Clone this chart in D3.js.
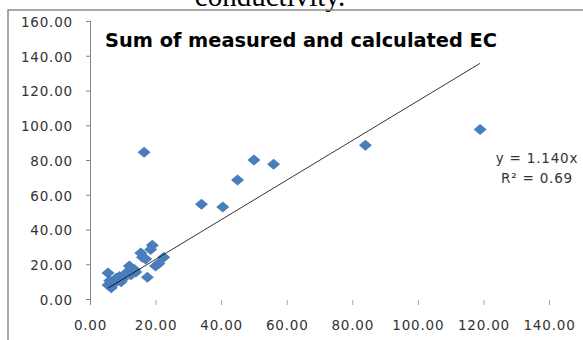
<!DOCTYPE html>
<html>
<head>
<meta charset="utf-8">
<script src="https://cdn.jsdelivr.net/npm/d3@7"></script>
<style>
  body { margin: 0; background: #fff; }
  svg { display: block; }
</style>
</head>
<body>
<script>
// measured vs calculated EC
var measured   = [119, 84, 56, 50, 45, 40.5, 34, 16.5,
                  19, 18.5, 15.5, 17, 16, 22.5, 21, 20, 17.5, 12, 13.5, 11, 9, 8, 10,
                  5.5, 6, 5.5, 6.5, 7.5, 9.5, 14, 12.5];
var calculated = [97.5, 88.5, 77.5, 80, 68.5, 53, 54.5, 84.5,
                  31, 28.5, 26.5, 23, 24, 24, 20.5, 19, 12.5, 19, 17, 15, 13, 12, 11.5,
                  15, 10.5, 8, 6.5, 9, 10, 15.5, 14];
var xTicks = [0, 20, 40, 60, 80, 100, 120, 140];
var yTicks = [0, 20, 40, 60, 80, 100, 120, 140, 160];
var slope = 1.140;
var chartTitle = "Sum of measured and calculated EC";
var eqLines = ["y = 1.140x", "R\u00b2 = 0.69"];

var W = 583, H = 340;

var svg = d3.select('body').append('svg')
  .attr('width', W)
  .attr('height', H);

svg.append('rect').attr('width', W).attr('height', H).style('fill', '#fff');

// caption text of the page, cut by the top edge (as in the source)
svg.append('text')
  .attr('x', 270).attr('y', 6)
  .style('font-family', 'Liberation Serif')
  .style('font-size', '29px')
  .style('text-anchor', 'middle')
  .style('fill', '#000')
  .text('conductivity.');

// chart frame (only top and left edge visible)
svg.append('path')
  .attr('d', 'M8,' + H + ' L8,10 L' + W + ',10')
  .style('fill', 'none')
  .style('stroke', '#8c8c8c')
  .style('stroke-width', 1.5);

var x = d3.scaleLinear().domain([0, 140]).range([90, 549]);
var y = d3.scaleLinear().domain([0, 160]).range([299, 21]);

var labelFont = function(sel) {
  sel.style('font-family', 'DejaVu Sans')
    .style('font-size', '13.5px')
    .style('letter-spacing', '0.8px')
    .style('fill', '#333');
};

// y axis
var yAxis = svg.append('g')
  .attr('transform', 'translate(90,0)')
  .call(d3.axisLeft(y).tickValues(yTicks).tickSize(4).tickPadding(13)
    .tickFormat(function(d) { return d3.format('.2f')(d); }));
yAxis.select('.domain').remove();
yAxis.selectAll('.tick line').style('stroke', '#868686');
yAxis.selectAll('.tick text').call(labelFont).attr('dy', '0.4em');
svg.append('line')
  .attr('x1', 90.5).attr('x2', 90.5)
  .attr('y1', y(160)).attr('y2', 305)
  .style('stroke', '#868686');

// x axis (ticks only, no line)
var xAxis = svg.append('g')
  .attr('transform', 'translate(0,300)')
  .call(d3.axisBottom(x).tickValues(xTicks).tickSize(5).tickPadding(15)
    .tickFormat(function(d) { return d3.format('.2f')(d); }));
xAxis.select('.domain').remove();
xAxis.selectAll('.tick line').style('stroke', '#a6a6a6');
xAxis.selectAll('.tick').filter(function(d) { return d === 0; }).select('line').remove();
xAxis.selectAll('.tick text').call(labelFont);

// title
svg.append('text')
  .attr('x', 105).attr('y', 47)
  .attr('textLength', 392)
  .attr('lengthAdjust', 'spacingAndGlyphs')
  .style('font-family', 'DejaVu Sans')
  .style('font-weight', 'bold')
  .style('font-size', '19px')
  .style('fill', '#000')
  .text(chartTitle);

// points
var data = measured.map(function(m, i) { return { m: m, c: calculated[i] }; });
var diamond = 'M0,-5.5 L6.5,0 L0,5.5 L-6.5,0 Z';
svg.append('g').selectAll('path')
  .data(data)
  .enter()
  .append('path')
  .attr('d', diamond)
  .attr('transform', function(d) { return 'translate(' + x(d.m) + ',' + y(d.c) + ')'; })
  .style('fill', '#4a7ebb');

// linear trendline through origin
var xMin = d3.min(measured), xMax = d3.max(measured);
svg.append('line')
  .attr('x1', x(xMin)).attr('y1', y(slope * xMin))
  .attr('x2', x(xMax)).attr('y2', y(slope * xMax))
  .style('stroke', '#000')
  .style('stroke-width', 0.8);

// equation label
svg.append('g').selectAll('text')
  .data(eqLines)
  .enter()
  .append('text')
  .attr('x', 537)
  .attr('y', function(d, i) { return 163 + i * 20; })
  .style('text-anchor', 'middle')
  .call(labelFont)
  .text(function(d) { return d; });
</script>
</body>
</html>
